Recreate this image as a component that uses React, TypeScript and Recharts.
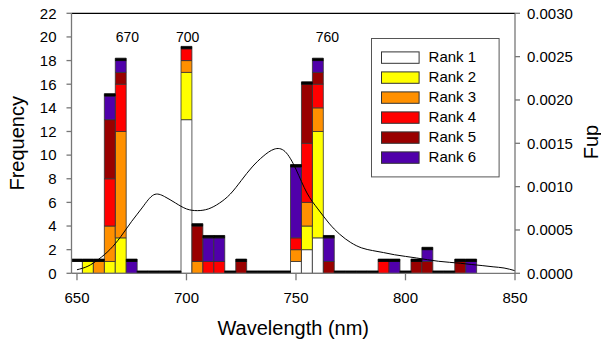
import React from 'react';
import { ComposedChart, Bar, Line, XAxis, YAxis, ReferenceLine, ReferenceDot, Legend, Label } from 'recharts';

const wavelengths = [650, 655, 660, 665, 670, 675, 680, 685, 690, 695, 700, 705, 710, 715, 720, 725, 730, 735, 740, 745, 750, 755, 760, 765, 770, 775, 780, 785, 790, 795, 800, 805, 810, 815, 820, 825, 830, 835, 840, 845, 850];
const rank1 = [1, 0, 0, 0, 0, 0, 0, 0, 0, 0, 13, 0, 0, 0, 0, 0, 0, 0, 0, 0, 1, 2, 3, 0, 0, 0, 0, 0, 0, 0, 0, 0, 0, 0, 0, 0, 0, 0, 0, 0, 0];
const rank2 = [0, 1, 0, 1, 3, 0, 0, 0, 0, 0, 4, 0, 0, 0, 0, 0, 0, 0, 0, 0, 0, 2, 9, 0, 0, 0, 0, 0, 0, 0, 0, 0, 0, 0, 0, 0, 0, 0, 0, 0, 0];
const rank3 = [0, 0, 1, 3, 9, 0, 0, 0, 0, 0, 1, 1, 0, 0, 0, 0, 0, 0, 0, 0, 1, 2, 2, 0, 0, 0, 0, 0, 0, 0, 0, 0, 0, 0, 0, 0, 0, 0, 0, 0, 0];
const rank4 = [0, 0, 0, 4, 4, 0, 0, 0, 0, 0, 1, 0, 1, 1, 0, 0, 0, 0, 0, 0, 1, 5, 2, 0, 0, 0, 0, 0, 1, 0, 0, 0, 0, 0, 0, 0, 0, 0, 0, 0, 0];
const rank5 = [0, 0, 0, 5, 1, 0, 0, 0, 0, 0, 0, 3, 0, 0, 0, 1, 0, 0, 0, 0, 0, 5, 1, 1, 0, 0, 0, 0, 0, 0, 0, 1, 1, 0, 0, 1, 0, 0, 0, 0, 0];
const rank6 = [0, 0, 0, 2, 1, 1, 0, 0, 0, 0, 0, 0, 2, 2, 0, 0, 0, 0, 0, 0, 6, 0, 1, 2, 0, 0, 0, 0, 0, 1, 0, 0, 1, 0, 0, 0, 1, 0, 0, 0, 0];
// thin black top band of the histogram outline (bins 650..830)
const capBand = [0.2, 0.2, 0.2, 0.2, 0.2, 0.2, 0.2, 0.2, 0.2, 0.2, 0.2, 0.2, 0.2, 0.2, 0.2, 0.2, 0.2, 0.2, 0.2, 0.2, 0.2, 0.2, 0.2, 0.2, 0.2, 0.2, 0.2, 0.2, 0.2, 0.2, 0.2, 0.2, 0.2, 0.2, 0.2, 0.2, 0.2, 0, 0, 0, 0];
const fupCurve = [0.000041, 0.000082, 0.000164, 0.000273, 0.000423, 0.0006, 0.000764, 0.000905, 0.000885, 0.000811, 0.000743, 0.000723, 0.000743, 0.000809, 0.000914, 0.00107, 0.001227, 0.00135, 0.001432, 0.001405, 0.0012, 0.000927, 0.000743, 0.00058, 0.00045, 0.000355, 0.000293, 0.000262, 0.000239, 0.000214, 0.000195, 0.000177, 0.000157, 0.000139, 0.000127, 0.000116, 0.000102, 0.000089, 0.000075, 0.000061, 0.00003];

const rankNames = ['Rank 1', 'Rank 2', 'Rank 3', 'Rank 4', 'Rank 5', 'Rank 6'];
const rankKeys = ['r1', 'r2', 'r3', 'r4', 'r5', 'r6'];
const rankColors = ['#FFFFFF', '#FFFF00', '#FF9000', '#FF0000', '#990000', '#5000AA'];
const freqTicks = [0, 2, 4, 6, 8, 10, 12, 14, 16, 18, 20, 22];
const fupTicks = [0, 0.0005, 0.001, 0.0015, 0.002, 0.0025, 0.003];
const xTicks = [650, 700, 750, 800, 850];
const peakLabelX = [673, 700.5, 764.3];
const peakLabelText = ['670', '700', '760'];
const peakLabelY = 19.6;

const rankSeries = [rank1, rank2, rank3, rank4, rank5, rank6];
const data = wavelengths.map((nm, i) => {
  const row: any = { nm, fup: fupCurve[i] };
  rankKeys.forEach((k, j) => { row[k] = rankSeries[j][i]; });
  row.cap = capBand[i];
  return row;
});

const FONT = '"Liberation Sans", Arial, Helvetica, sans-serif';
const AXIS = '#777777';

const LegendBox = () => (
  <svg width={129} height={140} style={{ display: 'block', fontFamily: FONT }}>
    <rect x={0.5} y={0.5} width={127.6} height={138.4} fill="#fff" stroke="#555" strokeWidth={1} />
    {rankNames.map((name, i) => (
      <g key={name}>
        <rect x={10.5} y={13.9 + i * 20} width={37.6} height={11.4} fill={rankColors[i]} stroke="#333" strokeWidth={1} />
        <text x={57.6} y={24.2 + i * 20} fontSize={15} fill="#000">{name}</text>
      </g>
    ))}
  </svg>
);

export default function App() {
  return (
    <div style={{ position: 'absolute', left: 0, top: 0, width: 601, height: 343, background: '#fff' }}>
      <ComposedChart
        width={601}
        height={343}
        data={data}
        margin={{ top: 13.3, right: 0, bottom: 0, left: 0 }}
        style={{ fontFamily: FONT }}
      >
        <XAxis
          dataKey="nm"
          type="number"
          domain={[647.5, 850]}
          allowDataOverflow
          ticks={xTicks}
          height={69.7}
          tickSize={7}
          tickMargin={12}
          axisLine={{ stroke: AXIS, strokeWidth: 1.3 }}
          tickLine={{ stroke: AXIS, strokeWidth: 1.3 }}
          tick={{ fill: '#000', fontSize: 15, fontFamily: FONT }}
        >
          <Label content={() => (
            <text x={293.25} y={335} textAnchor="middle" fontSize={20} fill="#000" fontFamily={FONT}>Wavelength (nm)</text>
          )} />
        </XAxis>
        <YAxis
          yAxisId="left"
          domain={[0, 22]}
          ticks={freqTicks}
          allowDataOverflow
          width={71.5}
          tickSize={5}
          tickMargin={10}
          axisLine={{ stroke: AXIS, strokeWidth: 1.3 }}
          tickLine={{ stroke: AXIS, strokeWidth: 1.3 }}
          tick={{ fill: '#000', fontSize: 15, fontFamily: FONT }}
        >
          <Label content={() => (
            <text x={24} y={143.3} transform="rotate(-90 24 143.3)" textAnchor="middle" fontSize={20} fill="#000" fontFamily={FONT}>Frequency</text>
          )} />
        </YAxis>
        <YAxis
          yAxisId="right"
          orientation="right"
          domain={[0, 0.003]}
          ticks={fupTicks}
          allowDataOverflow
          width={86}
          tickSize={5}
          tickMargin={7}
          tickFormatter={(v: number) => v.toFixed(4)}
          axisLine={{ stroke: AXIS, strokeWidth: 1.3 }}
          tickLine={{ stroke: AXIS, strokeWidth: 1.3 }}
          tick={{ fill: '#000', fontSize: 15, fontFamily: FONT }}
        >
          <Label content={() => (
            <text x={598} y={142} transform="rotate(-90 598 142)" textAnchor="middle" fontSize={20} fill="#000" fontFamily={FONT}>Fup</text>
          )} />
        </YAxis>
        <ReferenceLine yAxisId="left" y={22} stroke="#000" strokeWidth={1.2} />
        {rankKeys.map((k, i) => (
          <Bar
            key={k}
            yAxisId="left"
            dataKey={k}
            name={rankNames[i]}
            stackId="s"
            fill={rankColors[i]}
            stroke="#333"
            strokeWidth={0.8}
            barSize={10.9}
            isAnimationActive={false}
          />
        ))}
        <Bar yAxisId="left" dataKey="cap" stackId="s" fill="#000" stroke="#000" strokeWidth={0.8} barSize={10.9} isAnimationActive={false} legendType="none" />
        <Line
          yAxisId="right"
          dataKey="fup"
          type="natural"
          stroke="#000"
          strokeWidth={1}
          dot={false}
          activeDot={false}
          isAnimationActive={false}
          legendType="none"
        />
        {peakLabelX.map((x, i) => (
          <ReferenceDot
            key={peakLabelText[i]}
            yAxisId="left"
            x={x}
            y={peakLabelY}
            r={0}
            ifOverflow="visible"
            shape={(p: any) => (
              <text x={p.cx} y={p.cy} textAnchor="middle" fontSize={14} fill="#000" fontFamily={FONT}>{peakLabelText[i]}</text>
            )}
          />
        ))}
        <Legend
          layout="vertical"
          align="center"
          verticalAlign="middle"
          wrapperStyle={{ position: 'absolute', left: 371.2, top: 37.8, width: 129, height: 140 }}
          content={() => <LegendBox />}
        />
      </ComposedChart>
    </div>
  );
}
